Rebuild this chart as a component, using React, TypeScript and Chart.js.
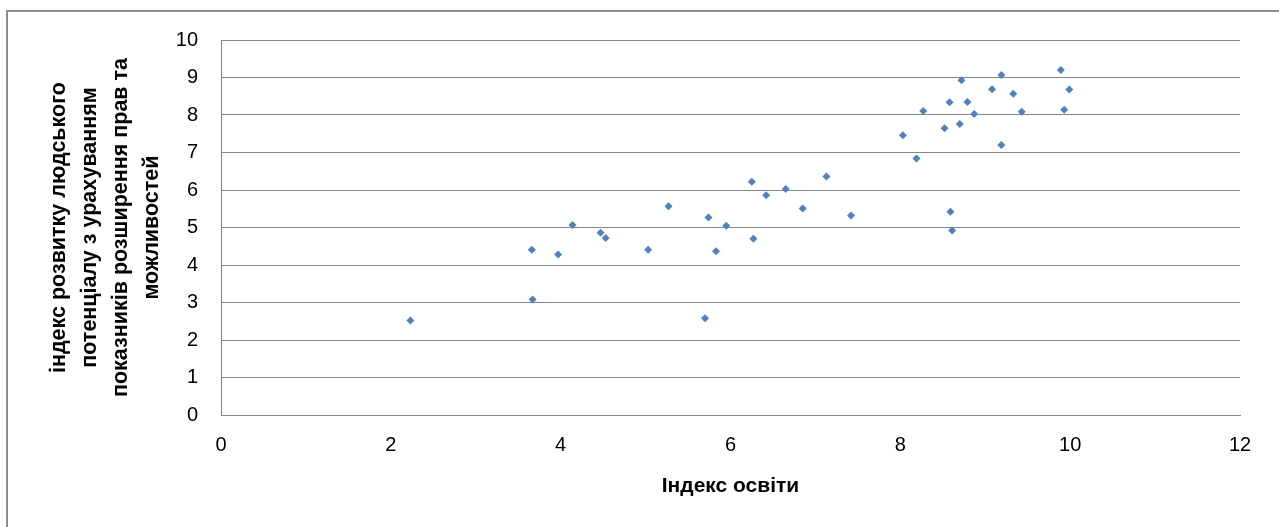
import React, { useEffect, useRef } from "react";
import { Chart, registerables } from "chart.js";

Chart.register(...registerables);

// Індекс освіти (x) and індекс розвитку людського потенціалу (y)
const educationIndex: number[] = [
  2.23, 3.66, 3.67, 3.97, 4.14, 4.47, 4.53, 5.03, 5.27, 5.7, 5.74, 5.83, 5.95,
  6.25, 6.27, 6.42, 6.65, 6.85, 7.13, 7.42, 8.03, 8.19, 8.27, 8.52, 8.58, 8.59,
  8.61, 8.7, 8.72, 8.79, 8.87, 9.08, 9.19, 9.19, 9.33, 9.43, 9.89, 9.93, 9.99,
];
const developmentIndex: number[] = [
  2.52, 4.41, 3.08, 4.28, 5.07, 4.86, 4.72, 4.41, 5.57, 2.58, 5.27, 4.37, 5.05,
  6.22, 4.7, 5.86, 6.03, 5.51, 6.36, 5.32, 7.46, 6.84, 8.11, 7.65, 8.34, 5.42,
  4.92, 7.76, 8.93, 8.35, 8.03, 8.69, 9.07, 7.2, 8.57, 8.09, 9.2, 8.14, 8.68,
];
const xTitle = "Індекс освіти";
const yTitleLines: string[] = [
  "індекс розвитку людського",
  "потенціалу з урахуванням",
  "показників розширення прав та",
  "можливостей",
];
const xMin = 0, xMax = 12, xStep = 2;
const yMin = 0, yMax = 10, yStep = 1;

const FONT = '"Liberation Sans", Arial, sans-serif';

export default function App() {
  const ref = useRef<HTMLCanvasElement | null>(null);

  useEffect(() => {
    if (!ref.current) return;
    const points = educationIndex.map((x, i) => ({ x, y: developmentIndex[i] }));
    const chart = new Chart(ref.current, {
      type: "scatter",
      data: {
        datasets: [
          {
            data: points,
            pointStyle: "rectRot",
            pointRadius: 4,
            pointBackgroundColor: "#4F81BD",
            pointBorderColor: "#4F81BD",
            pointBorderWidth: 0,
          },
        ],
      },
      options: {
        animation: false,
        responsive: false,
        maintainAspectRatio: false,
        devicePixelRatio: 1,
        layout: { padding: { left: 0, right: 39, top: 40, bottom: 0 } },
        plugins: { legend: { display: false }, tooltip: { enabled: false } },
        scales: {
          x: {
            type: "linear",
            min: xMin,
            max: xMax,
            ticks: {
              stepSize: xStep,
              color: "#000",
              font: { family: FONT, size: 20 },
              padding: 18,
            },
            grid: { display: false, drawTicks: false },
            border: { display: true, color: "#868686", width: 1 },
            title: {
              display: true,
              text: xTitle,
              color: "#000",
              font: { family: FONT, size: 21, weight: "bold" },
              padding: { top: 0, bottom: 28 },
            },
            afterFit: (scale: any) => {
              scale.height = 112;
            },
          },
          y: {
            type: "linear",
            min: yMin,
            max: yMax,
            ticks: {
              stepSize: yStep,
              color: "#000",
              font: { family: FONT, size: 20 },
              padding: 23,
            },
            grid: { color: "#868686", lineWidth: 1, drawTicks: false },
            border: { display: true, color: "#868686", width: 1 },
            title: {
              display: true,
              text: yTitleLines,
              color: "#000",
              font: { family: FONT, size: 21.5, weight: "bold", lineHeight: "31px" },
              padding: { top: 44, bottom: 0 },
            },
            afterFit: (scale: any) => {
              scale.width = 221;
            },
          },
        },
      },
    });
    return () => chart.destroy();
  }, []);

  return (
    <div
      style={{
        position: "fixed",
        left: 0,
        top: 0,
        width: 1279,
        height: 527,
        background: "#fff",
        overflow: "hidden",
      }}
    >
      <div
        style={{
          position: "absolute",
          left: 6,
          top: 10,
          width: 1300,
          height: 600,
          border: "2px solid #8f8f8f",
          boxSizing: "border-box",
        }}
      />
      <canvas
        ref={ref}
        width={1279}
        height={527}
        style={{ position: "absolute", left: 0, top: 0, width: 1279, height: 527 }}
      />
    </div>
  );
}
